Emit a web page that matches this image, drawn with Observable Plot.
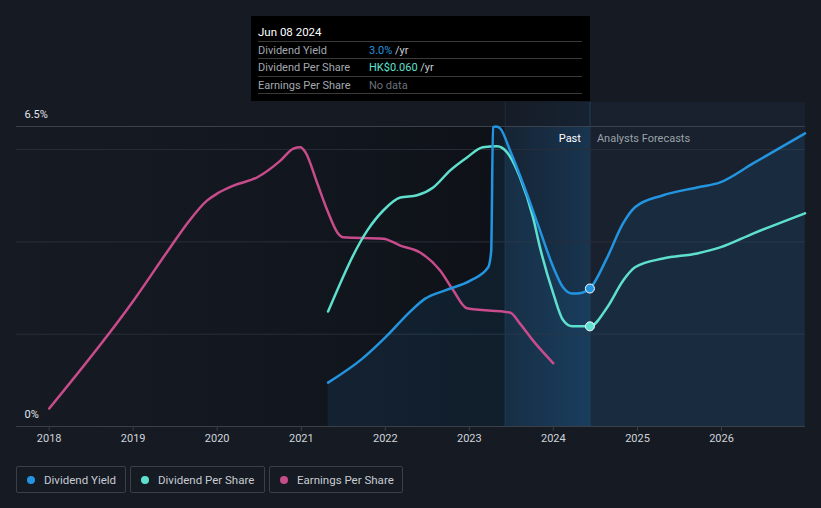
<!DOCTYPE html>
<html>
<head>
<meta charset="utf-8">
<script src="https://cdn.jsdelivr.net/npm/d3@7"></script>
<script src="https://cdn.jsdelivr.net/npm/@observablehq/plot@0.6"></script>
<style>
  html, body { margin: 0; padding: 0; background: #151a23; width: 821px; height: 508px; overflow: hidden; font-family: Roboto, "Noto Sans", sans-serif; }
  #wrap { position: relative; width: 821px; height: 508px; }
  #chart { position: absolute; left: 0; top: 0; }
  #tip { position: absolute; left: 251px; top: 16px; width: 339px; height: 85px; background: #000; box-sizing: border-box; font-size: 11px; }
  #tip .title { position: absolute; left: 7px; top: 9px; color: #fff; font-size: 11.5px; white-space: nowrap; }
  #tip .sep { position: absolute; left: 7px; width: 324px; height: 1px; background: #3a3a3a; }
  #tip .row { position: absolute; left: 7px; width: 320px; color: #a3a8b0; white-space: nowrap; }
  #tip .val { position: absolute; left: 111px; white-space: nowrap; }
  #legend { position: absolute; top: 466px; left: 16px; display: flex; gap: 4px; }
  .item { height: 27px; border: 1px solid #3a3f48; border-radius: 2px; box-sizing: border-box; display: flex; align-items: center; padding: 0 0 0 10px; color: #c8ccd2; font-size: 11.5px; white-space: nowrap; }
  .dot { width: 8px; height: 8px; border-radius: 50%; margin-right: 9px; }
</style>
</head>
<body>
<div id="wrap">
  <div id="chart"></div>
  <div id="tip">
    <div class="title">Jun 08 2024</div>
    <div class="sep" style="top:25px"></div>
    <div class="row" style="top:28px">Dividend Yield<span class="val"><span style="color:#2394df">3.0%</span> <span style="color:#c8ccd2">/yr</span></span></div>
    <div class="sep" style="top:42px"></div>
    <div class="row" style="top:45px">Dividend Per Share<span class="val"><span style="color:#5fe0cf">HK$0.060</span> <span style="color:#c8ccd2">/yr</span></span></div>
    <div class="sep" style="top:60px"></div>
    <div class="row" style="top:63px">Earnings Per Share<span class="val" style="color:#6b7079">No data</span></div>
    <div class="sep" style="top:77px"></div>
  </div>
  <div id="legend">
    <div class="item" style="width:110px"><span class="dot" style="background:#2394df"></span>Dividend Yield</div>
    <div class="item" style="width:135px"><span class="dot" style="background:#5fe0cf"></span>Dividend Per Share</div>
    <div class="item" style="width:134px"><span class="dot" style="background:#c84b8c"></span>Earnings Per Share</div>
  </div>
</div>
<script>
// Dividend Yield (%)
const yieldDates = ["2021-04-27","2021-09-23","2022-01-01","2022-04-19","2022-06-23","2022-09-18","2023-01-05","2023-03-24","2023-04-06","2023-04-14","2023-04-27","2023-05-15","2023-06-27","2023-08-22","2023-11-04","2024-01-01","2024-02-13","2024-03-23","2024-05-06","2024-06-08","2024-08-22","2024-10-30","2024-12-21","2025-04-22","2025-09-17","2025-12-26","2026-05-18","2026-12-30"];
const yieldValues = [0.95,1.47,1.93,2.49,2.77,2.95,3.16,3.45,3.80,6.48,6.50,6.46,5.98,5.27,4.25,3.45,3.01,2.88,2.90,2.99,3.66,4.40,4.75,5.01,5.18,5.29,5.70,6.35];

// Dividend Per Share (plotted on the same visual scale)
const dpsDates = ["2021-04-27","2021-10-15","2021-12-23","2022-03-07","2022-05-19","2022-07-28","2022-10-10","2022-12-22","2023-03-01","2023-05-01","2023-06-14","2023-08-09","2023-10-05","2023-11-04","2024-01-01","2024-02-13","2024-03-23","2024-06-08","2024-08-22","2024-10-30","2024-12-21","2025-04-22","2025-09-17","2025-12-26","2026-05-18","2026-12-30"];
const dpsValues = [2.49,4.25,4.68,4.96,5.01,5.18,5.55,5.83,6.05,6.07,5.94,5.40,4.53,3.88,2.88,2.30,2.17,2.17,2.58,3.16,3.45,3.64,3.75,3.88,4.18,4.62];

// Earnings Per Share (plotted on the same visual scale)
const epsDates = ["2018-01-01","2019-01-03","2019-06-11","2019-08-24","2019-11-19","2020-01-02","2020-03-12","2020-06-24","2020-10-02","2020-11-27","2020-12-28","2021-01-19","2021-03-11","2021-04-24","2021-06-07","2021-07-02","2021-12-23","2022-03-07","2022-06-01","2022-08-27","2022-10-23","2022-12-22","2023-06-27","2023-08-09","2023-10-05","2024-01-01"];
const epsValues = [0.39,2.73,3.88,4.40,4.90,5.05,5.22,5.40,5.76,6.02,6.05,5.94,5.27,4.68,4.20,4.10,4.07,3.92,3.77,3.38,2.95,2.56,2.47,2.23,1.86,1.37];

const yTickValues = [0, 6.5];
const yTickLabels = ["0%", "6.5%"];
const gridValues = [2, 4, 6];
const xTickYears = [2018, 2019, 2020, 2021, 2022, 2023, 2024, 2025, 2026];
const xDomain = ["2017-08-12", "2027-01-01"];
const pastBandStart = "2023-06-06";
const todayDate = "2024-06-08";
const topValue = 7.02;

const D = s => new Date(s + "T00:00:00Z");
const yieldData = yieldDates.map((d, i) => ({date: D(d), value: yieldValues[i]}));
const dpsData = dpsDates.map((d, i) => ({date: D(d), value: dpsValues[i]}));
const epsData = epsDates.map((d, i) => ({date: D(d), value: epsValues[i]}));
const today = D(todayDate);
const yieldToday = yieldData.find(d => +d.date === +today);
const dpsToday = dpsData.find(d => +d.date === +today);

const regions = [
  {x1: D(xDomain[0]), x2: D(pastBandStart), y1: 0, y2: 6.5, fill: "url(#pastDark)"},
  {x1: D(pastBandStart), x2: today, y1: 0, y2: 6.5, fill: "url(#bandGrad)"},
  {x1: D(pastBandStart), x2: today, y1: 6.5, y2: topValue, fill: "url(#bandTop)"},
  {x1: today, x2: D(xDomain[1]), y1: 0, y2: topValue, fill: "#18212d"}
];

const defs = () => {
  const g = d3.create("svg:defs");
  const a = g.append("linearGradient").attr("id", "pastDark").attr("x1", 0).attr("x2", 1).attr("y1", 0).attr("y2", 0);
  a.append("stop").attr("offset", 0).attr("stop-color", "#080a0e").attr("stop-opacity", 0);
  a.append("stop").attr("offset", 0.45).attr("stop-color", "#080a0e").attr("stop-opacity", 0.14);
  a.append("stop").attr("offset", 1).attr("stop-color", "#080a0e").attr("stop-opacity", 0.55);
  const b = g.append("linearGradient").attr("id", "bandGrad").attr("x1", 0).attr("x2", 1).attr("y1", 0).attr("y2", 0);
  b.append("stop").attr("offset", 0).attr("stop-color", "#1e64a0").attr("stop-opacity", 0.13);
  b.append("stop").attr("offset", 1).attr("stop-color", "#1e64a0").attr("stop-opacity", 0.36);
  const c = g.append("linearGradient").attr("id", "bandTop").attr("x1", 0).attr("x2", 1).attr("y1", 0).attr("y2", 0);
  c.append("stop").attr("offset", 0).attr("stop-color", "#1e64a0").attr("stop-opacity", 0.03);
  c.append("stop").attr("offset", 1).attr("stop-color", "#1e64a0").attr("stop-opacity", 0.12);
  return g.node();
};

const chart = Plot.plot({
  width: 821,
  height: 460,
  marginLeft: 16,
  marginRight: 16,
  marginTop: 126,
  marginBottom: 34,
  style: {background: "transparent", color: "#d0d4da", fontFamily: "Roboto, sans-serif", fontSize: "11px"},
  x: {type: "utc", domain: xDomain.map(D)},
  y: {domain: [0, 6.5], axis: null},
  marks: [
    defs,
    Plot.rect(regions, {x1: "x1", x2: "x2", y1: "y1", y2: "y2", fill: "fill"}),
    Plot.ruleX([D(pastBandStart)], {y1: 0, y2: topValue, stroke: "#1c2d3e", strokeWidth: 1}),
    Plot.ruleX([today], {y1: 0, y2: topValue, stroke: "#24405c", strokeWidth: 1}),
    Plot.ruleY(gridValues, {stroke: "#282e38", strokeWidth: 1}),
    Plot.ruleY([6.5], {stroke: "#3c424c", strokeWidth: 1}),
    Plot.areaY(yieldData, {x: "date", y: "value", curve: "monotone-x", fill: "#2394df", fillOpacity: 0.1}),
    Plot.line(epsData, {x: "date", y: "value", curve: "monotone-x", stroke: "#c84b8c", strokeWidth: 2.5}),
    Plot.line(dpsData, {x: "date", y: "value", curve: "monotone-x", stroke: "#5fe0cf", strokeWidth: 2.5}),
    Plot.line(yieldData, {x: "date", y: "value", curve: "monotone-x", stroke: "#2394df", strokeWidth: 2.5}),
    Plot.dot([yieldToday], {x: "date", y: "value", r: 4.5, fill: "#2394df", stroke: "#fff", strokeWidth: 1}),
    Plot.dot([dpsToday], {x: "date", y: "value", r: 4.5, fill: "#5fe0cf", stroke: "#fff", strokeWidth: 1}),
    Plot.ruleY([0], {stroke: "#3a3f48", strokeWidth: 1}),
    Plot.axisX(xTickYears.map(y => D(y + "-01-01")), {tickFormat: d3.utcFormat("%Y"), tickSize: 5, tickPadding: 3, stroke: "#3a3f48", fill: "#d0d4da", fontSize: 11, label: null}),
    Plot.text(yTickValues, {x: D(xDomain[0]), y: d => d, text: (d, i) => yTickLabels[i], textAnchor: "start", dx: 8, dy: -12, fill: "#e2e5ea", fontSize: 11}),
    Plot.text(["Past"], {x: today, y: 6.5, text: d => d, textAnchor: "end", dx: -9, dy: 12, fill: "#ffffff", fontSize: 11}),
    Plot.text(["Analysts Forecasts"], {x: today, y: 6.5, text: d => d, textAnchor: "start", dx: 7, dy: 12, fill: "#9ca1a9", fontSize: 11})
  ]
});
document.getElementById("chart").appendChild(chart);
</script>
</body>
</html>
